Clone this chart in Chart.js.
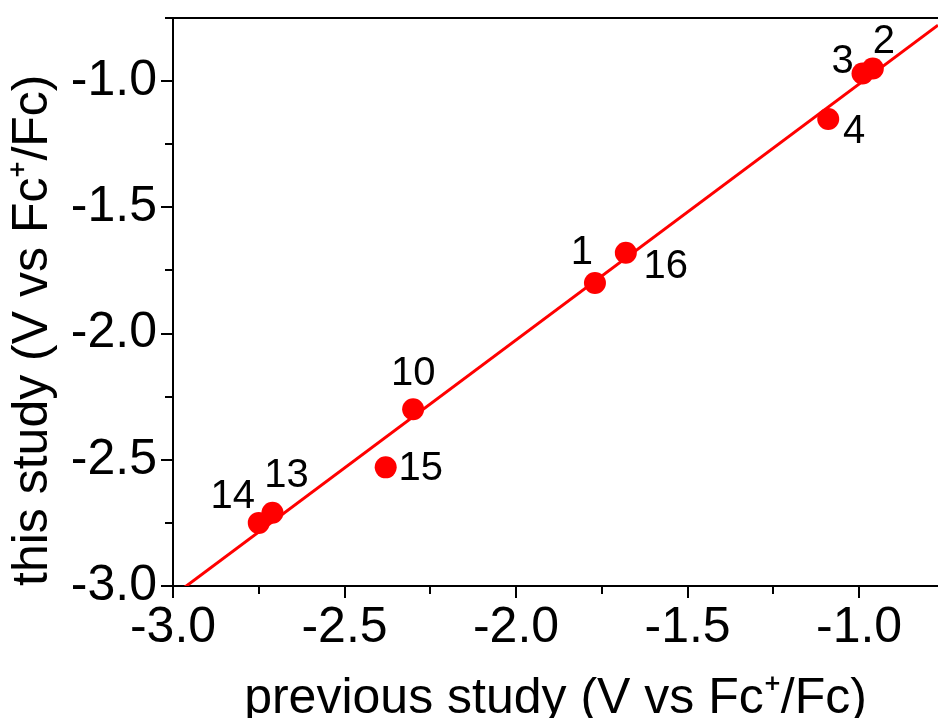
<!DOCTYPE html>
<html>
<head>
<meta charset="utf-8">
<script src="https://cdn.jsdelivr.net/npm/chart.js@4.4.1/dist/chart.umd.min.js"></script>
<style>
  html, body { margin: 0; padding: 0; background: #fff; overflow: hidden; }
</style>
</head>
<body>
<canvas id="scatterChart" width="938" height="718"></canvas>
<script>
/* Data */
const compound_labels = ['1', '2', '3', '4', '10', '13', '14', '15', '16'];
const previous_study = [-1.77, -0.96, -0.99, -1.09, -2.30, -2.71, -2.75, -2.38, -1.68];
const this_study = [-1.80, -0.95, -0.97, -1.15, -2.30, -2.71, -2.75, -2.53, -1.68];
const major_ticks = [-3.0, -2.5, -2.0, -1.5, -1.0];

// where each number sits around its dot (px)
const label_offsets = [[-13, -30], [11, -27], [-20, -12], [26, 13], [0, -35], [14, -37], [-26, -26], [35, 2], [40, 14]];

const x_min = -3.0, x_max = -0.77;
const y_min = -3.0, y_max = -0.75;

/* Linear fit through the points */
const n = previous_study.length;
const mean_x = previous_study.reduce((a, b) => a + b, 0) / n;
const mean_y = this_study.reduce((a, b) => a + b, 0) / n;
let sxy = 0, sxx = 0;
for (let i = 0; i < n; i++) {
    sxy += (previous_study[i] - mean_x) * (this_study[i] - mean_y);
    sxx += (previous_study[i] - mean_x) ** 2;
}
const slope = sxy / sxx;
const intercept = mean_y - slope * mean_x;
const fit_data = [x_min, x_max].map(x => ({ x: x, y: slope * x + intercept }));

const points = previous_study.map((x, i) => ({ x: x, y: this_study[i] }));

const RED = '#ff0000';
const FONT = "'Liberation Sans', Arial, sans-serif";

/* ticks, frame top and point numbers */
const decorations = {
    id: 'decorations',
    afterDraw(chart) {
        const ctx = chart.ctx;
        const area = chart.chartArea;
        const xs = chart.scales.x, ys = chart.scales.y;
        ctx.save();
        ctx.strokeStyle = '#000';
        ctx.lineWidth = 2;
        ctx.beginPath();
        ctx.moveTo(area.left - 1, area.top);
        ctx.lineTo(area.right, area.top);
        for (let v = -3.0; v <= x_max + 1e-9; v += 0.25) {
            const px = Math.round(xs.getPixelForValue(v));
            const major = Math.abs(v * 2 - Math.round(v * 2)) < 1e-6;
            ctx.moveTo(px, area.bottom);
            ctx.lineTo(px, area.bottom + (major ? 12 : 8));
        }
        for (let v = -3.0; v <= y_max + 1e-9; v += 0.25) {
            const py = Math.round(ys.getPixelForValue(v));
            const major = Math.abs(v * 2 - Math.round(v * 2)) < 1e-6;
            ctx.moveTo(area.left, py);
            ctx.lineTo(area.left - (major ? 12 : 8), py);
        }
        ctx.stroke();

        const meta = chart.getDatasetMeta(1);
        ctx.fillStyle = '#000';
        ctx.font = '40px ' + FONT;
        ctx.textAlign = 'center';
        ctx.textBaseline = 'middle';
        meta.data.forEach((pt, i) => {
            const off = label_offsets[i];
            ctx.fillText(compound_labels[i], pt.x + off[0], pt.y + off[1]);
        });
        ctx.restore();
    }
};

const fixed_ticks = s => { s.ticks = major_ticks.map(v => ({ value: v })); };

/* Create chart */
const my_chart = new Chart('scatterChart', {
    type: 'scatter',
    data: {
        datasets: [
            {
                type: 'line',
                label: 'fit',
                data: fit_data,
                borderColor: RED,
                borderWidth: 3,
                pointRadius: 0,
                fill: false,
                order: 2
            },
            {
                label: 'compounds',
                data: points,
                backgroundColor: RED,
                borderWidth: 0,
                pointRadius: 11,
                pointHoverRadius: 11,
                order: 1
            }
        ]
    },
    options: {
        responsive: false,
        animation: false,
        devicePixelRatio: 1,
        layout: { autoPadding: false, padding: { top: 18, right: 0, bottom: 0, left: 0 } },
        scales: {
            x: {
                type: 'linear',
                position: 'bottom',
                min: x_min,
                max: x_max,
                grid: { display: false, drawTicks: false },
                border: { display: true, color: '#000', width: 2 },
                afterBuildTicks: fixed_ticks,
                ticks: {
                    color: '#000',
                    font: { family: FONT, size: 50 },
                    padding: 12,
                    maxRotation: 0,
                    autoSkip: false,
                    callback: v => v.toFixed(1)
                },
                title: {
                    display: true,
                    text: 'previous study (V vs Fc\u207A/Fc)',
                    color: '#000',
                    font: { family: FONT, size: 50 },
                    padding: { top: 0, bottom: -11 }
                },
                afterFit: s => { s.height = 132; s.paddingLeft = 0; s.paddingRight = 0; }
            },
            y: {
                type: 'linear',
                position: 'left',
                min: y_min,
                max: y_max,
                grid: { display: false, drawTicks: false },
                border: { display: true, color: '#000', width: 2 },
                afterBuildTicks: fixed_ticks,
                ticks: {
                    color: '#000',
                    font: { family: FONT, size: 50 },
                    padding: 16,
                    autoSkip: false,
                    callback: v => v.toFixed(1)
                },
                title: {
                    display: true,
                    align: 'start',
                    text: 'this study (V vs Fc\u207A/Fc)',
                    color: '#000',
                    font: { family: FONT, size: 50 },
                    padding: { top: 3, bottom: 0 }
                },
                afterFit: s => { s.width = 173; s.paddingTop = 0; s.paddingBottom = 0; }
            }
        },
        plugins: {
            legend: { display: false },
            tooltip: { enabled: false }
        }
    },
    plugins: [decorations]
});
</script>
</body>
</html>
